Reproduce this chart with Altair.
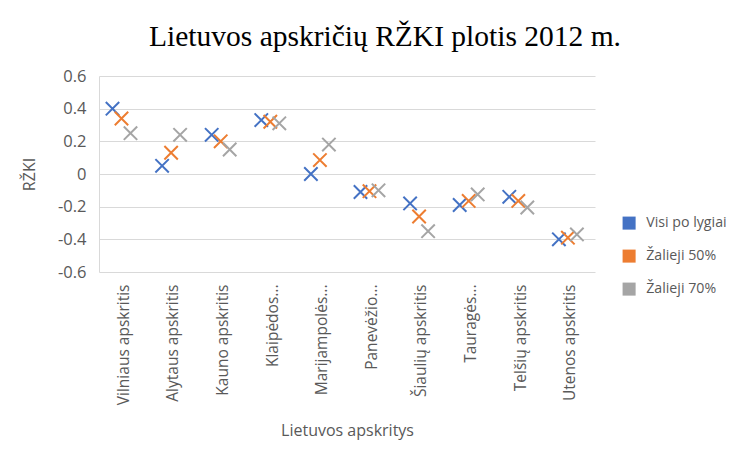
import altair as alt
import pandas as pd

categories = ["Vilniaus apskritis", "Alytaus apskritis", "Kauno apskritis",
              "Klaipėdos apskritis", "Marijampolės apskritis", "Panevėžio apskritis",
              "Šiaulių apskritis", "Tauragės apskritis", "Telšių apskritis",
              "Utenos apskritis"]
tick_labels = ["Vilniaus apskritis", "Alytaus apskritis", "Kauno apskritis",
               "Klaipėdos...", "Marijampolės...", "Panevėžio...",
               "Šiaulių apskritis", "Tauragės...", "Telšių apskritis",
               "Utenos apskritis"]
series = ["Visi po lygiai", "Žalieji 50%", "Žalieji 70%"]
visi = [0.40, 0.05, 0.24, 0.33, 0.00, -0.11, -0.18, -0.19, -0.14, -0.40]
z50 = [0.34, 0.13, 0.20, 0.32, 0.085, -0.105, -0.26, -0.165, -0.165, -0.39]
z70 = [0.25, 0.24, 0.15, 0.31, 0.18, -0.10, -0.35, -0.125, -0.205, -0.37]
y_ticks = [-0.6, -0.4, -0.2, 0, 0.2, 0.4, 0.6]
colors = ["#4472C4", "#ED7D31", "#A5A5A5"]

rows = []
for s, vals in zip(series, [visi, z50, z70]):
    for c, v in zip(categories, vals):
        rows.append({"apskritis": c, "serija": s, "RZKI": v})
df = pd.DataFrame(rows)

label_map = "{" + ",".join(f"'{c}':'{t}'" for c, t in zip(categories, tick_labels)) + "}"
FONT = "Open Sans"
GREY = "#595959"
color_scale = alt.Scale(domain=series, range=colors)

chart = alt.Chart(df).mark_point(
    shape="M-1,-1L1,1M-1,1L1,-1", filled=True, strokeWidth=2, size=180, opacity=1
).encode(
    x=alt.X("apskritis:N", sort=categories,
            scale=alt.Scale(paddingInner=0, paddingOuter=0),
            axis=alt.Axis(title="Lietuvos apskritys", labelAngle=-90, labelPadding=12,
                          labelExpr=f"{label_map}[datum.value]", labelLimit=200,
                          labelFontSize=15.5, titleFontSize=16,
                          domain=False, ticks=False, titlePadding=18)),
    xOffset=alt.XOffset("serija:N", sort=series,
                        scale=alt.Scale(type="point", range=[13.5, 31.5], padding=0)),
    y=alt.Y("RZKI:Q", scale=alt.Scale(domain=[-0.6, 0.6], nice=False),
            axis=alt.Axis(title="RŽKI", values=y_ticks, labelExpr="'' + datum.value",
                          ticks=False, domainColor="#d9d9d9", gridColor="#d9d9d9",
                          labelFontSize=16.5, titleFontSize=16, titleBaseline="middle",
                          labelPadding=13, titleX=-70, titleY=98)),
    stroke=alt.Stroke("serija:N", sort=series, scale=color_scale, legend=None),
    color=alt.Color("serija:N", sort=series, scale=color_scale,
                    legend=alt.Legend(title=None, orient="none", legendX=523, legendY=140,
                                      symbolType="square", symbolSize=170,
                                      symbolStrokeWidth=0,
                                      rowPadding=18, labelFontSize=14.2, labelColor=GREY,
                                      labelFont=FONT, labelOffset=10)),
).properties(
    width=496, height=196,
    title=alt.Title("Lietuvos apskričių RŽKI plotis 2012 m.", font="Liberation Serif",
                    fontSize=29.5, fontWeight="normal", color="#000000", dx=38, offset=16),
    autosize=alt.AutoSizeParams(type="none"),
    padding={"left": 99, "top": 76, "right": 160, "bottom": 188},
    background="white",
).configure_view(stroke=None).configure_axis(
    labelFont=FONT, titleFont=FONT,
    labelColor=GREY, titleColor=GREY, titleFontWeight="normal"
)

chart.save("out.html", embed_options={"renderer": "svg", "actions": False})
